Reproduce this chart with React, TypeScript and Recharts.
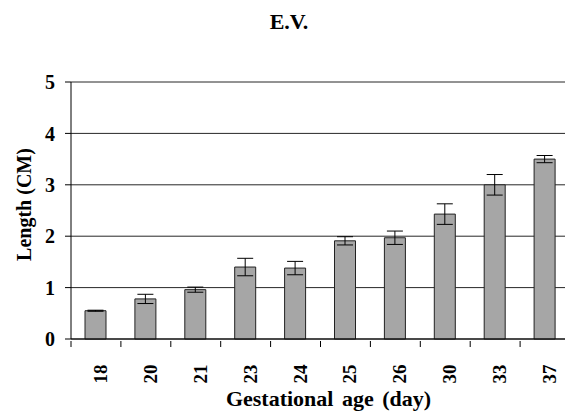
import React from "react";
import { BarChart, Bar, XAxis, YAxis, CartesianGrid, ErrorBar } from "recharts";

const ages = ["18", "20", "21", "23", "24", "25", "26", "30", "33", "37"];
const lengths = [0.55, 0.78, 0.96, 1.4, 1.38, 1.91, 1.97, 2.43, 3.0, 3.5];
const errors = [0.01, 0.09, 0.05, 0.17, 0.13, 0.08, 0.13, 0.2, 0.2, 0.07];
const yTicks = [0, 1, 2, 3, 4, 5];

const data = ages.map((age, i) => ({ age, length: lengths[i], err: errors[i] }));

const W = 570;
const H = 411;
const M = { top: 82, right: 0, bottom: 0, left: 0 };
const Y_W = 71;
const X_H = 72;
const font = "'Liberation Serif', 'Times New Roman', serif";
const band = (W - Y_W - M.left - M.right) / ages.length;

const AgeTick = (props: any) => {
  const { x, y, payload, index } = props;
  const cx = x + 11;
  const cy = y + 27;
  return (
    <g>
      <line x1={x - band / 2} y1={y - 6} x2={x - band / 2} y2={y} stroke="#000" />
      {index === ages.length - 1 && (
        <line x1={x + band / 2} y1={y - 6} x2={x + band / 2} y2={y} stroke="#000" />
      )}
      <text
        x={cx}
        y={cy}
        textAnchor="middle"
        transform={`rotate(-90, ${cx}, ${cy})`}
        fontFamily={font}
        fontWeight="bold"
        fontSize={19}
        fill="#000"
      >
        {payload.value}
      </text>
    </g>
  );
};

export default function App() {
  return (
    <div style={{ position: "absolute", left: 0, top: 0, width: 565, height: H, overflow: "hidden", background: "#fff" }}>
      <div
        style={{
          position: "absolute",
          top: 9,
          left: 289,
          transform: "translateX(-50%)",
          fontFamily: font,
          fontWeight: "bold",
          fontSize: 22,
          lineHeight: "25px",
        }}
      >
        E.V.
      </div>
      <BarChart width={W} height={H} data={data} margin={M} barSize={21}>
        <CartesianGrid horizontal vertical={false} stroke="#000" strokeOpacity={0.85} />
        <XAxis
          dataKey="age"
          height={X_H}
          tickLine={false}
          axisLine={{ stroke: "#000" }}
          tick={<AgeTick />}
          interval={0}
          label={(p: any) => {
            const vb = p.viewBox;
            return (
              <text
                x={vb.x + vb.width / 2 + 8}
                y={vb.y + 67}
                textAnchor="middle"
                fontFamily={font}
                fontWeight="bold"
                fontSize={22}
                wordSpacing={3}
                fill="#000"
              >
                Gestational age (day)
              </text>
            );
          }}
        />
        <YAxis
          width={Y_W}
          domain={[0, 5]}
          ticks={yTicks}
          interval={0}
          tickSize={6}
          tickMargin={10}
          tickLine={{ stroke: "#000" }}
          axisLine={{ stroke: "#000" }}
          tick={{ fontFamily: font, fontWeight: "bold", fontSize: 20, fill: "#000" }}
          label={(p: any) => {
            const vb = p.viewBox;
            const cx = 31;
            const cy = vb.y + vb.height / 2 - 6;
            return (
              <text
                x={cx}
                y={cy}
                textAnchor="middle"
                transform={`rotate(-90, ${cx}, ${cy})`}
                fontFamily={font}
                fontWeight="bold"
                fontSize={20}
                fill="#000"
              >
                Length (CM)
              </text>
            );
          }}
        />
        <Bar dataKey="length" fill="#a6a6a6" stroke="#222" strokeWidth={1} isAnimationActive={false}>
          <ErrorBar dataKey="err" width={8} stroke="#000" strokeWidth={1} isAnimationActive={false} />
        </Bar>
      </BarChart>
    </div>
  );
}
